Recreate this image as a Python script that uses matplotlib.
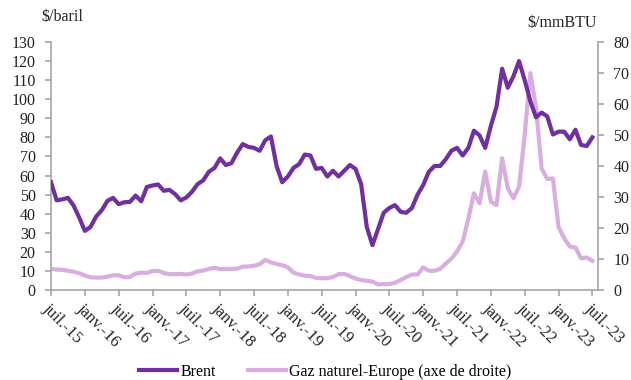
import matplotlib.pyplot as plt
import matplotlib.transforms as mtransforms
import numpy as np

plt.rcParams["font.family"] = ["Liberation Serif", "DejaVu Serif"]

# monthly averages, juil. 2015 -> juil. 2023
brent = [56.5, 47.0, 47.5, 48.3, 44.3, 38.0,
         31.0, 33.0, 38.5, 41.8, 46.7, 48.3, 45.0, 46.0, 46.2, 49.5, 46.5, 54.0,
         54.8, 55.3, 52.0, 52.5, 50.3, 47.0, 48.5, 51.5, 55.5, 57.5, 62.0, 64.0,
         69.0, 65.5, 66.5, 72.0, 76.5, 75.0, 74.5, 73.0, 78.5, 80.5, 65.0, 56.5,
         59.5, 64.0, 66.0, 71.0, 70.5, 63.5, 64.0, 59.5, 62.5, 59.5, 62.5, 65.5,
         63.5, 55.5, 33.0, 23.5, 32.0, 40.5, 43.0, 44.5, 41.0, 40.5, 43.0, 50.0,
         55.0, 62.0, 65.0, 65.0, 68.5, 73.0, 74.5, 70.5, 74.5, 83.5, 81.0, 74.5,
         86.0, 96.0, 116.0, 106.0, 112.0, 120.0, 110.0, 99.0, 90.5, 93.0, 91.0, 81.5,
         83.0, 83.0, 79.0, 84.0, 76.0, 75.5, 80.0]
gaz = [6.8, 6.6, 6.5, 6.2, 5.9, 5.4,
       4.7, 4.1, 4.0, 4.0, 4.3, 4.7, 4.8, 4.1, 4.2, 5.3, 5.6, 5.5,
       6.1, 6.2, 5.5, 5.1, 5.1, 5.2, 5.0, 5.3, 6.0, 6.3, 6.8, 7.2,
       6.7, 6.8, 6.8, 6.9, 7.5, 7.6, 7.8, 8.3, 9.7, 8.9, 8.4, 8.0,
       7.3, 5.6, 5.0, 4.6, 4.5, 3.9, 3.8, 3.8, 4.2, 5.1, 5.2, 4.5,
       3.7, 3.2, 3.0, 2.7, 1.8, 1.9, 1.9, 2.3, 3.2, 4.2, 5.0, 5.0,
       7.3, 6.2, 6.2, 6.8, 8.5, 10.1, 12.4, 15.6, 22.9, 31.2, 28.0, 38.2,
       28.5, 27.4, 42.5, 32.8, 29.6, 33.3, 50.0, 70.0, 59.0, 39.2, 35.8, 36.0,
       20.4, 16.7, 14.0, 13.7, 10.2, 10.5, 9.4]
tick_labels = ["juil.-15", "janv.-16", "juil.-16", "janv.-17", "juil.-17",
               "janv.-18", "juil.-18", "janv.-19", "juil.-19", "janv.-20",
               "juil.-20", "janv.-21", "juil.-21", "janv.-22", "juil.-22",
               "janv.-23", "juil.-23"]

x = np.arange(len(brent))
c_brent = "#7030A0"
c_gaz = "#D8AEDF"
grey = "#A6A6A6"

fig = plt.figure(figsize=(6.31, 3.80), dpi=100)
ax = fig.add_axes([51 / 631, 1 - 290 / 380, 547 / 631, 248 / 380])
ax2 = ax.twinx()

l1, = ax.plot(x, brent, color=c_brent, lw=3.0, zorder=3, solid_joinstyle="round")
l2, = ax2.plot(x, gaz, color=c_gaz, lw=3.0, solid_joinstyle="round")
ax.set_zorder(ax2.get_zorder() + 1)
ax.patch.set_visible(False)

ax.set_xlim(0, 97)
ax.set_ylim(0, 130)
ax2.set_ylim(0, 80)
ax.set_yticks(range(0, 131, 10))
ax2.set_yticks(range(0, 81, 10))
ax.set_xticks(range(0, 97, 6))
ax.set_xticklabels(tick_labels, rotation=-45, ha="left", va="top",
                   rotation_mode="anchor", fontsize=12)

# nudge the slanted month labels a little to the right
shift = mtransforms.ScaledTranslation(3 / 100, -1 / 100, fig.dpi_scale_trans)
for lab in ax.get_xticklabels():
    lab.set_transform(lab.get_transform() + shift)

for a in (ax, ax2):
    for s in a.spines.values():
        s.set_color(grey)
        s.set_linewidth(1.2)
    a.spines["top"].set_visible(False)
    a.tick_params(colors=grey, labelcolor="#222222", labelsize=11.5,
                  length=4, width=1.2)
ax.spines["right"].set_visible(False)
ax2.spines["left"].set_visible(False)
ax2.spines["bottom"].set_visible(False)
ax.tick_params(axis="y", pad=7)
ax2.tick_params(axis="y", pad=7)
ax.tick_params(axis="x", pad=4, labelsize=12)

fig.text(41 / 631, 1 - 17 / 380, r"\$/baril", ha="left", va="center",
         fontsize=11.5, color="#222222")
fig.text(597 / 631, 1 - 23 / 380, r"\$/mmBTU", ha="right", va="center",
         fontsize=11.5, color="#222222")

fig.legend([l1, l2], ["Brent", "Gaz naturel-Europe (axe de droite)"],
           loc="center", bbox_to_anchor=(325 / 631, 1 - 372 / 380), ncol=2,
           frameon=False, fontsize=11.5, handlelength=2.4, handletextpad=0.2,
           columnspacing=2.0)

fig.savefig("out.png", dpi=100)
